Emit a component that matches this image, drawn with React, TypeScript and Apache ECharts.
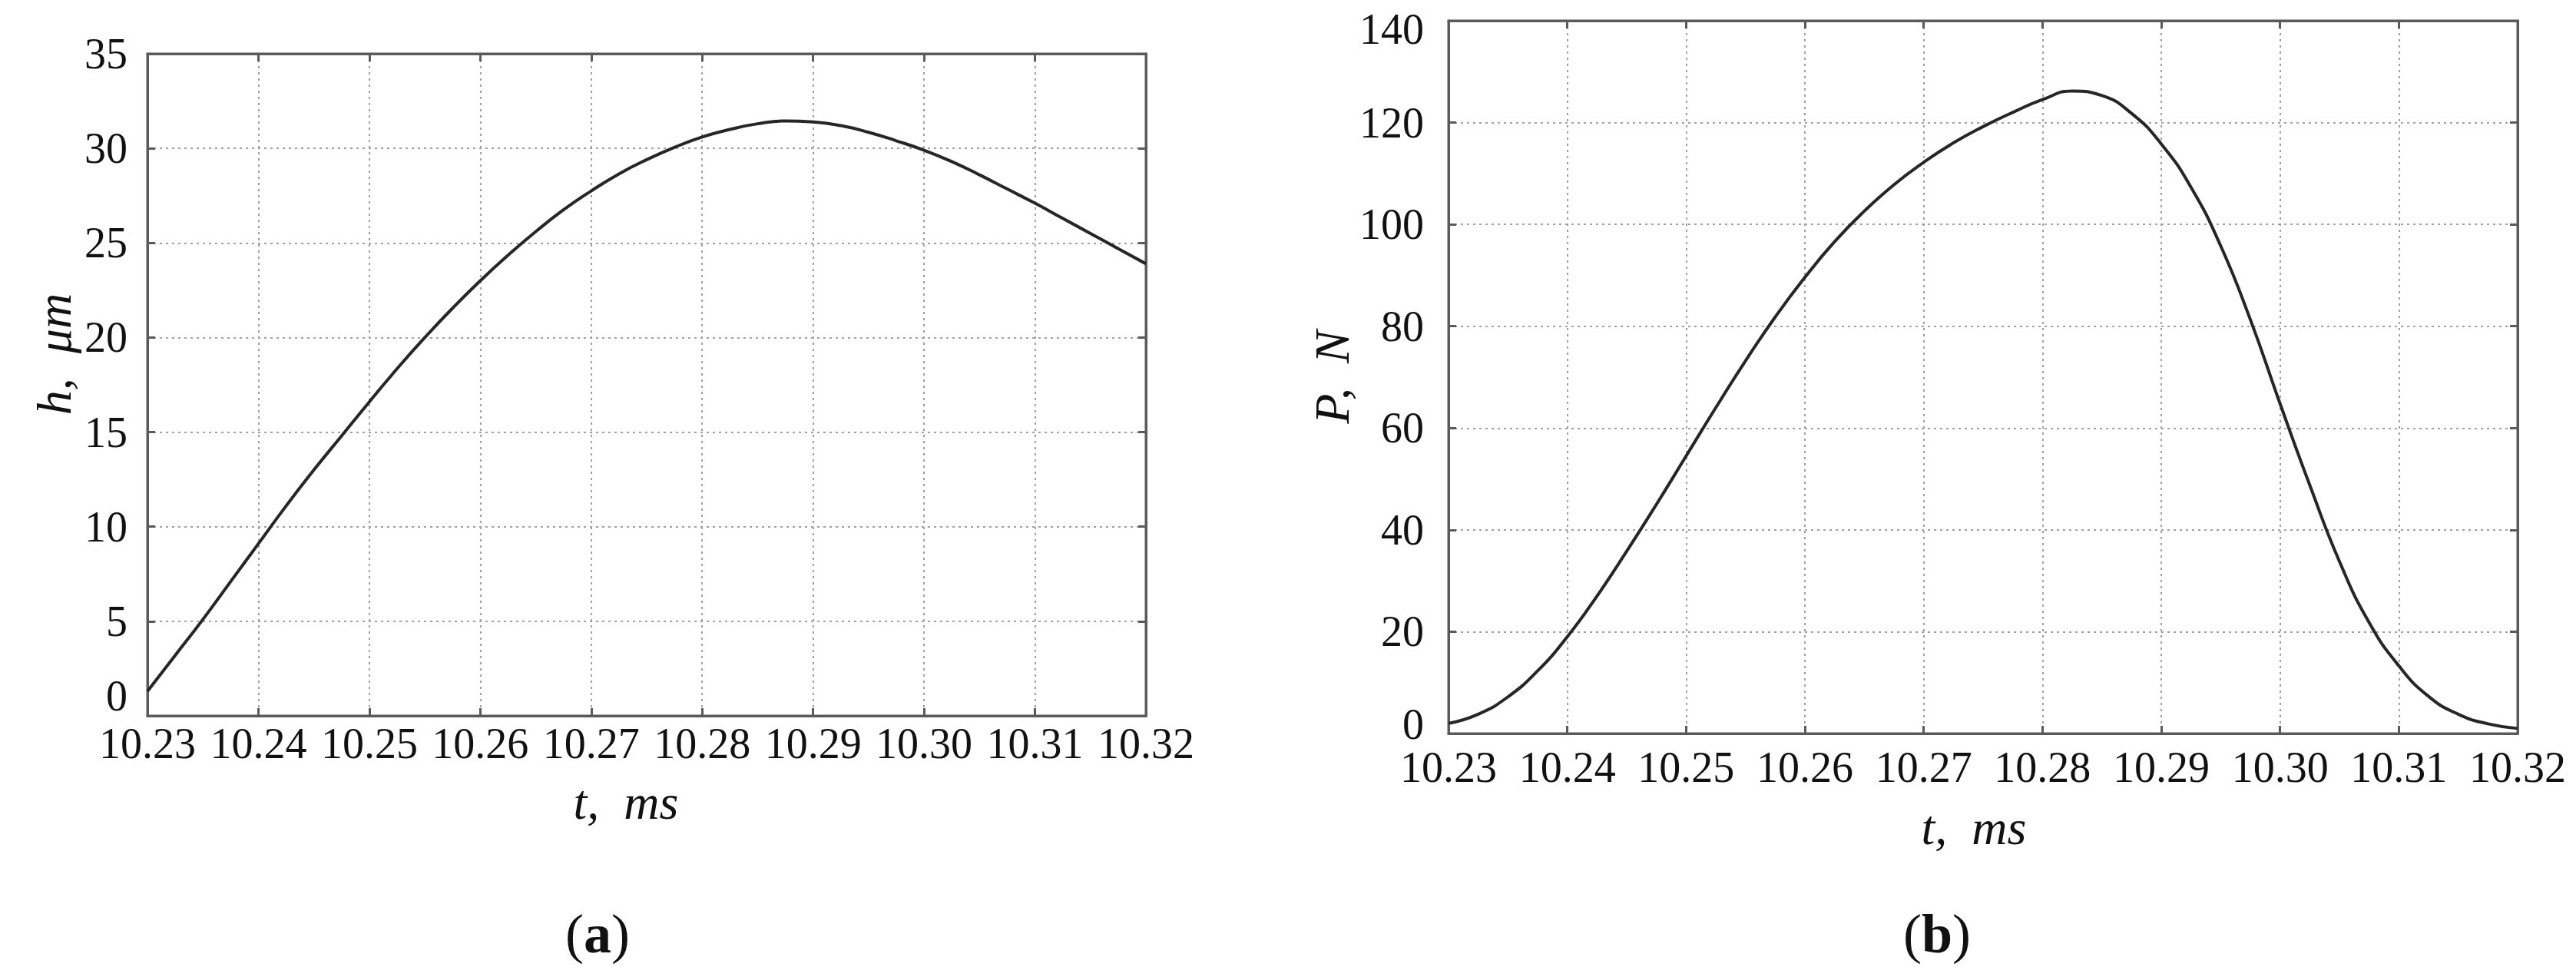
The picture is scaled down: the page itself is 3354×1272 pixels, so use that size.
import React, { useEffect, useRef } from "react";
import * as echarts from "echarts";

// time, ms
const TIME_MS = [
  10.23, 10.2325, 10.235, 10.2375, 10.24, 10.2425, 10.245, 10.2475, 10.25, 10.2525,
  10.255, 10.2575, 10.26, 10.2625, 10.265, 10.2675, 10.27, 10.2725, 10.275, 10.2775,
  10.28, 10.2825, 10.285, 10.2875, 10.29, 10.2925, 10.295, 10.2975, 10.3, 10.3025,
  10.305, 10.3075, 10.31, 10.3125, 10.315, 10.3175, 10.32,
];
// (a) film thickness h, μm
const H_UM = [
  1.3, 3.2, 5.1, 7.1, 9.1, 11.1, 13.0, 14.8, 16.6, 18.35,
  20.0, 21.55, 23.0, 24.35, 25.6, 26.75, 27.75, 28.65, 29.4, 30.05,
  30.6, 31.0, 31.3, 31.45, 31.4, 31.2, 30.85, 30.4, 29.9, 29.3,
  28.6, 27.85, 27.1, 26.3, 25.5, 24.7, 23.9,
];
// (b) force P, N
const P_N = [
  2.0, 3.8, 7.2, 12.3, 19.0, 27.0, 35.8, 45.0, 54.5, 64.0,
  73.2, 81.8, 89.6, 96.6, 102.6, 107.8, 112.2, 116.0, 119.2, 122.0,
  124.5, 126.2, 125.3, 121.8, 115.8, 107.3, 95.8, 81.3, 64.8, 48.8,
  33.8, 21.8, 13.3, 7.3, 3.8, 1.9, 1.0,
];

const X_MIN = 10.23;
const X_MAX = 10.32;
const X_STEP = 0.01;
const H_MIN = 0, H_MAX = 35, H_STEP = 5;
const P_MIN = 0, P_MAX = 140, P_STEP = 20;

const X_TITLE = "t,  ms";
const H_TITLE = "h,  μm";
const P_TITLE = "P,  N";
const PANEL_A = "a";
const PANEL_B = "b";

const FONT = "'Liberation Serif', 'DejaVu Serif', serif";
const TXT = "#111";
const AXIS_C = "#5a5a5a";
const GRID_C = "#a0a0a0";

function makeX(gridIndex: number, top: boolean, labelMargin: number, nameGap: number, namePad: number[]) {
  return {
    type: "value",
    gridIndex,
    position: top ? "top" : "bottom",
    min: X_MIN,
    max: X_MAX,
    interval: X_STEP,
    axisLine: { show: true, onZero: false, lineStyle: { color: AXIS_C, width: 3 } },
    axisTick: { show: true, inside: true, length: 10, lineStyle: { color: AXIS_C, width: 3 } },
    axisLabel: {
      show: !top,
      formatter: (v: number) => v.toFixed(2),
      fontSize: 56,
      color: TXT,
      fontFamily: FONT,
      margin: labelMargin,
    },
    splitLine: top
      ? { show: false }
      : { show: true, lineStyle: { type: [3, 5], color: GRID_C, width: 2 } },
    name: top ? "" : X_TITLE,
    nameLocation: "middle",
    nameGap,
    nameTextStyle: { fontStyle: "italic", fontSize: 64, fontFamily: FONT, color: TXT, padding: namePad },
  };
}

function makeY(
  gridIndex: number,
  right: boolean,
  min: number,
  max: number,
  step: number,
  title: string,
  labelMargin: number,
  nameGap: number,
  namePad: number[],
  zeroLift: number,
  topDrop: number
) {
  return {
    type: "value",
    gridIndex,
    position: right ? "right" : "left",
    min,
    max,
    interval: step,
    axisLine: { show: true, onZero: false, lineStyle: { color: AXIS_C, width: 3 } },
    axisTick: { show: true, inside: true, length: 10, lineStyle: { color: AXIS_C, width: 3 } },
    axisLabel: {
      show: !right,
      fontSize: 56,
      color: TXT,
      fontFamily: FONT,
      margin: labelMargin,
      formatter: (v: number) => {
        if (v === min) return "{z|" + v + "}";
        if (v === max) return "{t|" + v + "}";
        return String(v);
      },
      rich: {
        z: { fontSize: 56, fontFamily: FONT, color: TXT, padding: [0, 0, zeroLift, 0] },
        t: { fontSize: 56, fontFamily: FONT, color: TXT, padding: [topDrop, 0, 0, 0] },
      },
    },
    splitLine: right
      ? { show: false }
      : { show: true, lineStyle: { type: [3, 5], color: GRID_C, width: 2 } },
    name: right ? "" : title,
    nameLocation: "middle",
    nameGap,
    nameTextStyle: { fontStyle: "italic", fontSize: 64, fontFamily: FONT, color: TXT, padding: namePad },
  };
}

export default function App() {
  const ref = useRef<HTMLDivElement>(null);

  useEffect(() => {
    if (!ref.current) return;
    const chart = echarts.init(ref.current, null, { renderer: "svg" });
    const hData = TIME_MS.map((t, i) => [t, H_UM[i]]);
    const pData = TIME_MS.map((t, i) => [t, P_N[i]]);

    const panelText = (letter: string, x: number) => ({
      type: "text",
      x,
      y: 1216,
      style: {
        text: "{p|(}{b|" + letter + "}{p|)}",
        align: "center",
        verticalAlign: "middle",
        rich: {
          p: { fontSize: 72, fontFamily: FONT, fill: TXT, color: TXT },
          b: { fontSize: 72, fontFamily: FONT, fontWeight: "bold", fill: TXT, color: TXT },
        },
      },
    });

    const option = {
      animation: false,
      backgroundColor: "#ffffff",
      grid: [
        { left: 192, top: 70, width: 1300, height: 862, show: true, borderColor: AXIS_C, borderWidth: 3, backgroundColor: "transparent" },
        { left: 1886, top: 27, width: 1392, height: 928, show: true, borderColor: AXIS_C, borderWidth: 3, backgroundColor: "transparent" },
      ],
      xAxis: [
        makeX(0, false, 8, 80, [0, 54, 0, 0]),
        makeX(0, true, 8, 0, [0, 0, 0, 0]),
        makeX(1, false, 16, 90, [0, 24, 0, 0]),
        makeX(1, true, 8, 0, [0, 0, 0, 0]),
      ],
      yAxis: [
        makeY(0, false, H_MIN, H_MAX, H_STEP, H_TITLE, 26, 90, [0, 0, 0, 80], 52, 0),
        makeY(0, true, H_MIN, H_MAX, H_STEP, "", 8, 0, [0, 0, 0, 0], 0, 0),
        makeY(1, false, P_MIN, P_MAX, P_STEP, P_TITLE, 32, 100, [0, 0, 0, 0], 24, 22),
        makeY(1, true, P_MIN, P_MAX, P_STEP, "", 8, 0, [0, 0, 0, 0], 0, 0),
      ],
      series: [
        {
          type: "line",
          xAxisIndex: 0,
          yAxisIndex: 0,
          data: hData,
          showSymbol: false,
          smooth: true,
          lineStyle: { color: "#262626", width: 4 },
        },
        {
          type: "line",
          xAxisIndex: 2,
          yAxisIndex: 2,
          data: pData,
          showSymbol: false,
          smooth: true,
          lineStyle: { color: "#262626", width: 4 },
        },
      ],
      graphic: [panelText(PANEL_A, 778), panelText(PANEL_B, 2522)],
    };
    chart.setOption(option as any);
    return () => chart.dispose();
  }, []);

  return (
    <div
      ref={ref}
      style={{ position: "fixed", left: 0, top: 0, width: 3354, height: 1272, background: "#fff" }}
    />
  );
}
